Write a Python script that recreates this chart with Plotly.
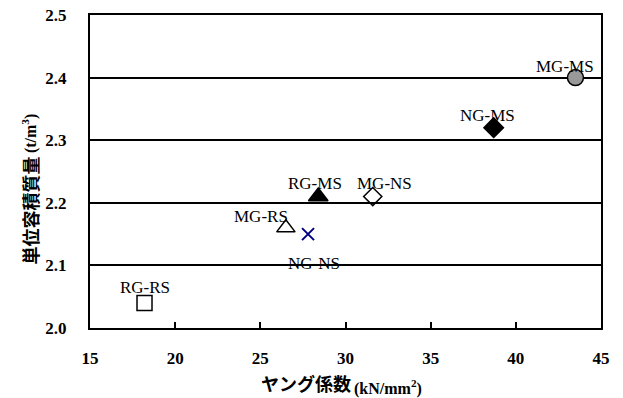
import plotly.graph_objects as go

labels = ["RG-RS", "MG-RS", "NG-NS", "RG-MS", "MG-NS", "NG-MS", "MG-MS"]
young = [18.2, 26.5, 27.8, 28.4, 31.6, 38.7, 43.5]
density = [2.04, 2.16, 2.15, 2.21, 2.21, 2.32, 2.40]

symbols = ["square-open", "triangle-up-open", "x-thin-open", "triangle-up", "diamond-open", "diamond", "circle"]
colors = ["black", "black", "#000080", "black", "black", "black", "#999999"]
sizes = [15, 16, 12, 17, 14, 15, 16]
# label offsets in pixels (styling)
label_dx = [0, -25, 6, -3, 12, -6, -10]
label_dy = [15, 11, -29, 13, 13, 12, 11]

x_ticks = [15, 20, 25, 30, 35, 40, 45]
y_ticks = [2.0, 2.1, 2.2, 2.3, 2.4, 2.5]

serif = "Liberation Serif"
cjk = "Noto Sans CJK JP"

fig = go.Figure()
for i in range(len(labels)):
    fig.add_trace(go.Scatter(
        x=[young[i]], y=[density[i]], mode="markers",
        marker=dict(symbol=symbols[i], size=sizes[i], color=colors[i],
                    line=dict(color="black" if symbols[i] in ("circle", "diamond", "triangle-up") else colors[i],
                              width=1.5 if symbols[i] != "x-thin-open" else 2)),
        showlegend=False, hoverinfo="skip"))
    fig.add_annotation(x=young[i], y=density[i], text=labels[i], showarrow=False,
                       xshift=label_dx[i], yshift=label_dy[i],
                       font=dict(family=serif, size=17, color="black"))

# x-axis title (two parts)
fig.add_annotation(
    xref="paper", yref="paper", x=0.514, y=-0.175, xanchor="right", yanchor="middle",
    showarrow=False, text="ヤング係数",
    font=dict(family=cjk, size=18, color="black", weight="bold"))
fig.add_annotation(
    xref="paper", yref="paper", x=0.512, y=-0.19, xanchor="left", yanchor="middle",
    showarrow=False, text="(kN/mm<sup>2</sup>)",
    font=dict(family=serif, size=16, color="black", weight="bold"))
# y-axis title (two parts)
fig.add_annotation(
    xref="paper", yref="paper", x=-0.118, y=0.553, xanchor="center", yanchor="top",
    showarrow=False, textangle=-90, text="単位容積質量",
    font=dict(family=cjk, size=18, color="black", weight="bold"))
fig.add_annotation(
    xref="paper", yref="paper", x=-0.118, y=0.553, xanchor="center", yanchor="bottom",
    showarrow=False, textangle=-90, text="(t/m<sup>3</sup>)",
    font=dict(family=serif, size=16, color="black", weight="bold"))

fig.update_layout(
    width=623, height=398,
    margin=dict(l=90, r=22, t=15, b=70),
    plot_bgcolor="white", paper_bgcolor="white",
    font=dict(family=serif, color="black"),
)
fig.update_xaxes(
    range=[15, 45], tickvals=x_ticks, ticktext=[f"<b>{v}</b>" for v in x_ticks],
    showgrid=False, zeroline=False, showline=True, linecolor="black", linewidth=2, mirror=True,
    ticks="inside", ticklen=6, tickwidth=1.5, tickcolor="black", automargin=False,
    tickfont=dict(family=serif, size=17, color="black"), ticklabelstandoff=14,
)
fig.update_yaxes(
    range=[2.0, 2.5], tickvals=y_ticks, ticktext=[f"<b>{v:.1f}</b>" for v in y_ticks],
    showgrid=True, gridcolor="black", gridwidth=1.5, zeroline=False,
    showline=True, linecolor="black", linewidth=2, mirror=True, automargin=False,
    ticks="", tickfont=dict(family=serif, size=17, color="black"), ticklabelstandoff=18,
)

fig.write_html("out.html")
